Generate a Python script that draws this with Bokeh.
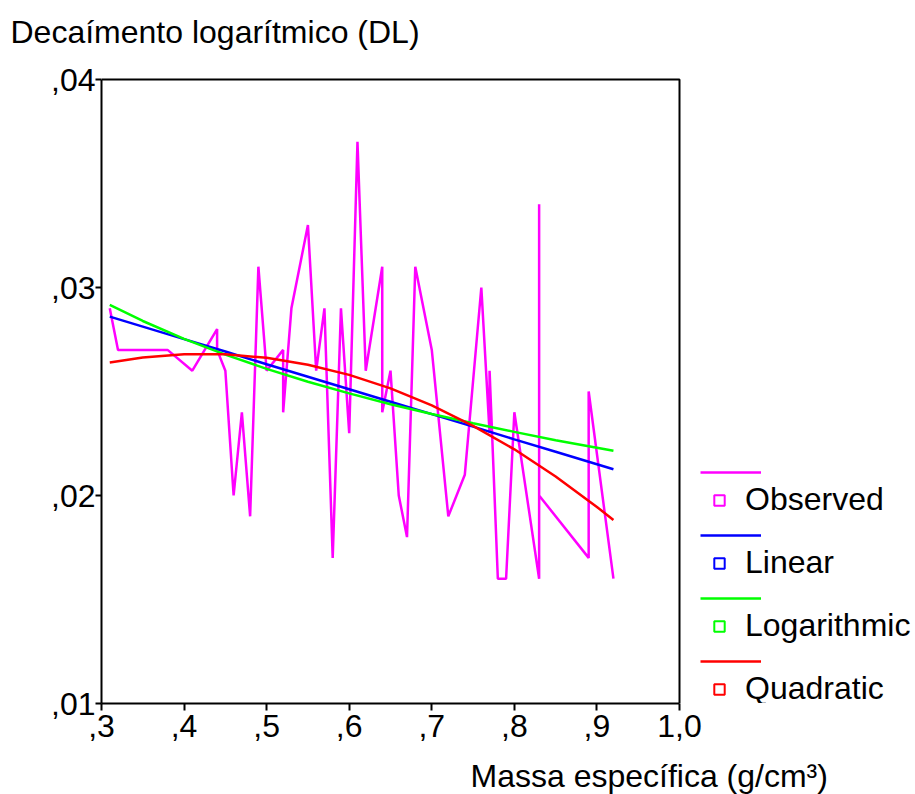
from bokeh.plotting import figure
from bokeh.models import Legend, LegendItem, Title, FixedTicker
from bokeh.embed import file_html
from bokeh.resources import INLINE

# ---- data ----
obs_x = [0.31, 0.32, 0.38, 0.41, 0.44, 0.44, 0.45, 0.46, 0.47, 0.48, 0.49, 0.50,
         0.52, 0.52, 0.53, 0.55, 0.56, 0.57, 0.58, 0.59, 0.60, 0.61, 0.62, 0.64,
         0.64, 0.65, 0.66, 0.67, 0.68, 0.70, 0.72, 0.74, 0.76, 0.77, 0.77, 0.78,
         0.79, 0.80, 0.83, 0.83, 0.83, 0.89, 0.89, 0.92]
obs_y = [0.029, 0.027, 0.027, 0.026, 0.028, 0.027, 0.026, 0.020, 0.024, 0.019, 0.031, 0.026,
         0.027, 0.024, 0.029, 0.033, 0.026, 0.029, 0.017, 0.029, 0.023, 0.037, 0.026, 0.031,
         0.024, 0.026, 0.020, 0.018, 0.031, 0.027, 0.019, 0.021, 0.030, 0.023, 0.026, 0.016,
         0.016, 0.024, 0.016, 0.034, 0.020, 0.017, 0.025, 0.016]

fit_x = [0.31, 0.35, 0.40, 0.45, 0.50, 0.55, 0.60, 0.65, 0.70, 0.75, 0.80, 0.85, 0.90, 0.92]
linear_y = [0.02860, 0.02812, 0.02752, 0.02692, 0.02631, 0.02571, 0.02511, 0.02451,
            0.02391, 0.02331, 0.02270, 0.02210, 0.02150, 0.02126]
log_y = [0.02917, 0.02839, 0.02753, 0.02677, 0.02609, 0.02547, 0.02491, 0.02439,
         0.02392, 0.02347, 0.02306, 0.02266, 0.02230, 0.02215]
quad_y = [0.02639, 0.02663, 0.02679, 0.02679, 0.02662, 0.02629, 0.02580, 0.02515,
          0.02433, 0.02335, 0.02222, 0.02091, 0.01945, 0.01882]

series_names = ["Observed", "Linear", "Logarithmic", "Quadratic"]
series_colors = ["#FF00FF", "#0000FF", "#00FF00", "#FF0000"]

x_ticks = [0.3, 0.4, 0.5, 0.6, 0.7, 0.8, 0.9, 1.0]
x_tick_labels = [",3", ",4", ",5", ",6", ",7", ",8", ",9", "1,0"]
y_ticks = [0.01, 0.02, 0.03, 0.04]
y_tick_labels = [",01", ",02", ",03", ",04"]

x_title = "Massa específica (g/cm³)"
y_title = "Decaímento logarítmico (DL)"

FONT = "Liberation Sans"
FS = "32px"

# ---- layout (pixels) ----
LEFT, TOP_PAD, BOX_W, BOX_H = 101, 2, 578, 624
FRAME_W = 915 - LEFT                 # frame runs on to the right so the legend can sit there
FRAME_H = BOX_H + TOP_PAD
x0, x1 = x_ticks[0], x_ticks[-1]
y0, y1 = y_ticks[0], y_ticks[-1]
x_end = x0 + (x1 - x0) * FRAME_W / BOX_W
y_end = y1 + (y1 - y0) * TOP_PAD / BOX_H

p = figure(frame_width=FRAME_W, frame_height=FRAME_H,
           x_range=(x0, x_end), y_range=(y0, y_end),
           output_backend="svg", toolbar_location=None,
           min_border_left=LEFT, min_border_right=0, min_border_top=77, min_border_bottom=0)
p.grid.visible = False
p.outline_line_color = None
p.background_fill_color = "white"
p.border_fill_color = "white"

for ax in (p.xaxis[0], p.yaxis[0]):
    ax.axis_line_width = 2
    ax.major_tick_line_width = 2
    ax.major_tick_in = 0
    ax.minor_tick_line_color = None
    ax.major_label_text_font = FONT
    ax.major_label_text_font_size = FS
    ax.major_label_text_color = "black"

p.xaxis.bounds = (x0, x1)
p.yaxis.bounds = (y0, y1)
p.xaxis.ticker = FixedTicker(ticks=x_ticks)
p.yaxis.ticker = FixedTicker(ticks=y_ticks)
p.xaxis.major_label_overrides = dict(zip(x_ticks, x_tick_labels))
p.yaxis.major_label_overrides = dict(zip(y_ticks, y_tick_labels))
p.xaxis.major_tick_out = 7
p.yaxis.major_tick_out = 6
p.xaxis.major_label_standoff = 4
p.yaxis.major_label_standoff = 0

# top and right sides of the plot box
p.line([x0, x1, x1], [y1, y1, y0], line_color="black", line_width=2)

nan = float("nan")
series_y = [obs_y, linear_y, log_y, quad_y]
series_x = [obs_x, fit_x, fit_x, fit_x]
line_items, mark_items = [], []
for xs, ys, c, n in zip(series_x, series_y, series_colors, series_names):
    r = p.line(xs, ys, line_color=c, line_width=2.5)
    s = p.scatter(x=[nan], y=[nan], marker="square", size=9, fill_color=None,
                  line_color=c, line_width=2)
    line_items.append(LegendItem(label=" ", renderers=[r]))
    mark_items.append(LegendItem(label=n, renderers=[s]))

leg_lines = Legend(items=line_items, location=(599, 32), glyph_width=61, glyph_height=20,
                   label_height=20, label_text_font_size="6px", spacing=43,
                   padding=0, margin=0, border_line_color=None,
                   background_fill_alpha=0, label_standoff=0)
leg_marks = Legend(items=mark_items, location=(599, -4), glyph_width=38, glyph_height=26,
                   label_text_font=FONT, label_text_font_size=FS, label_text_color="black",
                   spacing=26, padding=0, margin=0, border_line_color=None,
                   background_fill_alpha=0, label_standoff=7)
p.add_layout(leg_lines, "center")
p.add_layout(leg_marks, "center")

p.add_layout(Title(text=y_title + "\n ", align="left", offset=-91, standoff=-16,
                   text_font=FONT, text_font_size=FS, text_font_style="normal",
                   text_color="black"), "above")
p.add_layout(Title(text=x_title, align="left", offset=369, standoff=32,
                   text_font=FONT, text_font_size=FS, text_font_style="normal",
                   text_color="black"), "below")

open("out.html", "w").write(file_html(p, INLINE))
